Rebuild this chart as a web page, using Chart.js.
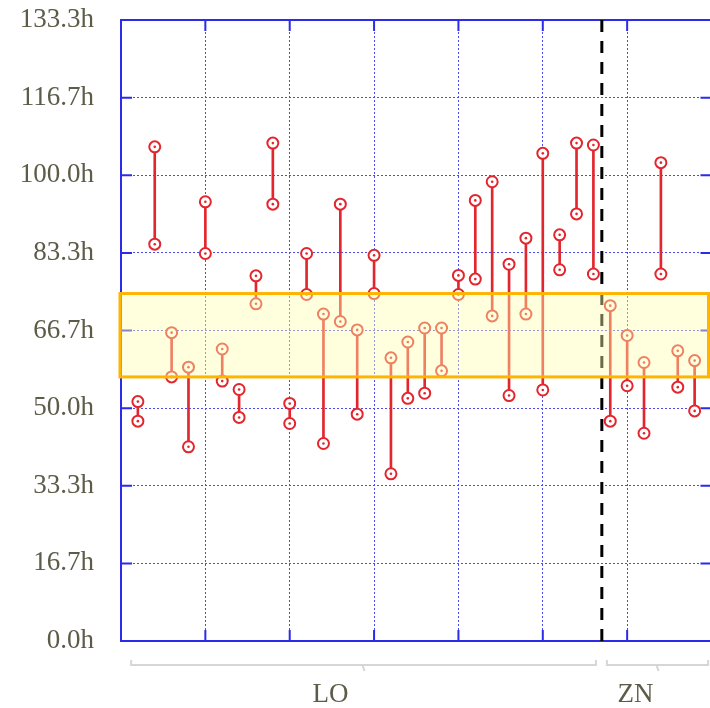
<!DOCTYPE html>
<html>
<head>
<meta charset="utf-8">
<script src="https://cdn.jsdelivr.net/npm/chart.js@4"></script>
<style>
  html, body { margin: 0; padding: 0; overflow: hidden; background: #fff; }
  canvas { display: block; }
</style>
</head>
<body>
<canvas id="c" width="719" height="708" style="width:719px;height:708px"></canvas>
<script>
// upper and lower end of each sample (hours)
const hiValues = [51.4, 106.1, 66.2, 58.8, 94.3, 62.7, 54.0, 78.4, 106.9, 51.0,
                  83.2, 70.2, 93.8, 66.8, 82.8, 60.8, 64.2, 67.2, 67.2, 78.5,
                  94.6, 98.6, 80.9, 86.5, 104.7, 87.2, 106.9, 106.5,
                  72.0, 65.6, 59.8, 102.7, 62.3, 60.2];
const loValues = [47.2, 85.2, 56.7, 41.7, 83.2, 55.8, 48.0, 72.4, 93.8, 46.7,
                  74.4, 42.4, 68.6, 48.7, 74.6, 35.9, 52.1, 53.2, 58.0, 74.4,
                  77.7, 69.8, 52.7, 70.2, 53.9, 79.7, 91.7, 78.8,
                  47.2, 54.8, 44.6, 78.8, 54.5, 49.4];
const groupNames = ['LO', 'ZN'];
const groupSizes = [28, 6];
const yTickLabels = ['0.0h', '16.7h', '33.3h', '50.0h', '66.7h', '83.3h', '100.0h', '116.7h', '133.3h'];
const yMax = 133.333;
const bandLow = 56.7;
const bandHigh = 74.6;

const yStep = yMax / (yTickLabels.length - 1);
const xTickAt = [-1, 4, 9, 14, 19, 24, 29, 34];

const RED = '#e3262e';
const BLUE = '#2b2be8';
const GRID = '#4a4af2';
const LABEL_FONT = '"Liberation Serif", serif';
const LABEL_COLOR = '#5d5c48';

const hiPoints = hiValues.map((v, i) => ({x: i, y: v}));
const loPoints = loValues.map((v, i) => ({x: i, y: v}));
const spans = hiValues.map((v, i) => ({x: i, y: [loValues[i], v]}));

// box border with inward ticks, dashed divider, limit band and group brackets
const frame = {
  id: 'frame',
  beforeDatasetsDraw(chart) {
    const {ctx, chartArea: a, scales: {x, y}} = chart;
    ctx.save();
    ctx.strokeStyle = BLUE;
    ctx.lineWidth = 2;
    ctx.beginPath();
    y.ticks.forEach(t => {
      const py = y.getPixelForValue(t.value);
      ctx.moveTo(a.left, py); ctx.lineTo(a.left + 11, py);
      ctx.moveTo(a.right, py); ctx.lineTo(a.right - 11, py);
    });
    x.ticks.forEach(t => {
      const px = x.getPixelForValue(t.value);
      ctx.moveTo(px, a.bottom); ctx.lineTo(px, a.bottom - 11);
      ctx.moveTo(px, a.top); ctx.lineTo(px, a.top + 11);
    });
    ctx.stroke();
    ctx.strokeRect(a.left, a.top, a.right - a.left, a.bottom - a.top);
    ctx.restore();
  },
  afterDatasetsDraw(chart) {
    const {ctx, chartArea: a, scales: {x, y}} = chart;
    ctx.save();
    // divider between groups
    const dx = x.getPixelForValue(groupSizes[0] - 0.5);
    ctx.strokeStyle = '#000';
    ctx.lineWidth = 3;
    ctx.setLineDash([12, 9]);
    ctx.beginPath();
    ctx.moveTo(dx, a.top); ctx.lineTo(dx, a.bottom);
    ctx.stroke();
    ctx.setLineDash([]);
    // band
    const yt = y.getPixelForValue(bandHigh);
    const yb = y.getPixelForValue(bandLow);
    const bl = a.left - 1, br = 708.5;
    ctx.fillStyle = 'rgba(255, 255, 175, 0.42)';
    ctx.fillRect(bl, yt, br - bl, yb - yt);
    ctx.strokeStyle = '#ffb400';
    ctx.lineWidth = 3;
    ctx.strokeRect(bl, yt, br - bl, yb - yt);
    ctx.restore();
  },
  afterDraw(chart) {
    const {ctx, scales: {x}} = chart;
    ctx.save();
    const by = 665;
    const shift = [-33, -22];
    let start = 0;
    groupNames.forEach((name, g) => {
      const end = start + groupSizes[g] - 1;
      const x0 = x.getPixelForValue(start - (g === 0 ? 0.4 : 0.2));
      const x1 = x.getPixelForValue(end + (g === 0 ? 0.15 : 0.8));
      const xc = (x0 + x1) / 2;
      ctx.strokeStyle = '#d6d6d6';
      ctx.lineWidth = 2;
      ctx.beginPath();
      ctx.moveTo(x0, by - 5); ctx.lineTo(x0, by); ctx.lineTo(x1, by); ctx.lineTo(x1, by - 5);
      ctx.moveTo(xc - 1, by); ctx.lineTo(xc + 1, by + 6);
      ctx.stroke();
      ctx.fillStyle = LABEL_COLOR;
      ctx.font = '27px ' + LABEL_FONT;
      ctx.textAlign = 'center';
      ctx.textBaseline = 'middle';
      ctx.fillText(name, xc + shift[g], 695);
      start += groupSizes[g];
    });
    ctx.restore();
  }
};

new Chart(document.getElementById('c'), {
  type: 'scatter',
  data: {
    datasets: [
      {
        type: 'bar',
        data: spans,
        backgroundColor: RED,
        borderWidth: 0,
        barThickness: 2,
        grouped: false,
        order: 3
      },
      {
        data: hiPoints,
        pointRadius: 5.5,
        pointBorderWidth: 2,
        pointBorderColor: RED,
        pointBackgroundColor: '#fff',
        order: 2
      },
      {
        data: loPoints,
        pointRadius: 5.5,
        pointBorderWidth: 2,
        pointBorderColor: RED,
        pointBackgroundColor: '#fff',
        order: 2
      },
      {
        data: hiPoints.concat(loPoints),
        pointRadius: 1.3,
        pointBorderWidth: 0,
        pointBackgroundColor: RED,
        order: 1
      }
    ]
  },
  options: {
    responsive: false,
    animation: false,
    events: [],
    layout: {padding: {top: 20, right: 2, bottom: 0, left: 0}},
    plugins: {legend: {display: false}, tooltip: {enabled: false}},
    scales: {
      x: {
        type: 'linear',
        min: -1,
        max: 34,
        offset: false,
        afterBuildTicks: s => { s.ticks = xTickAt.map(v => ({value: v})); },
        afterFit: s => { s.height = 67; s.paddingLeft = 0; s.paddingRight = 0; },
        ticks: {display: false},
        grid: {color: GRID, lineWidth: 1, drawTicks: false, offset: false},
        border: {display: false, dash: [2, 2]}
      },
      y: {
        min: 0,
        max: yMax,
        afterBuildTicks: s => { s.ticks = yTickLabels.map((_, k) => ({value: k * yStep})); },
        afterFit: s => { s.width = 121; s.paddingTop = 0; s.paddingBottom = 0; },
        ticks: {
          padding: 27,
          color: LABEL_COLOR,
          font: {family: LABEL_FONT, size: 27},
          callback: (v, idx) => yTickLabels[idx]
        },
        grid: {color: GRID, lineWidth: 1, drawTicks: false},
        border: {display: false, dash: [2, 2]}
      }
    }
  },
  plugins: [frame]
});
</script>
</body>
</html>
